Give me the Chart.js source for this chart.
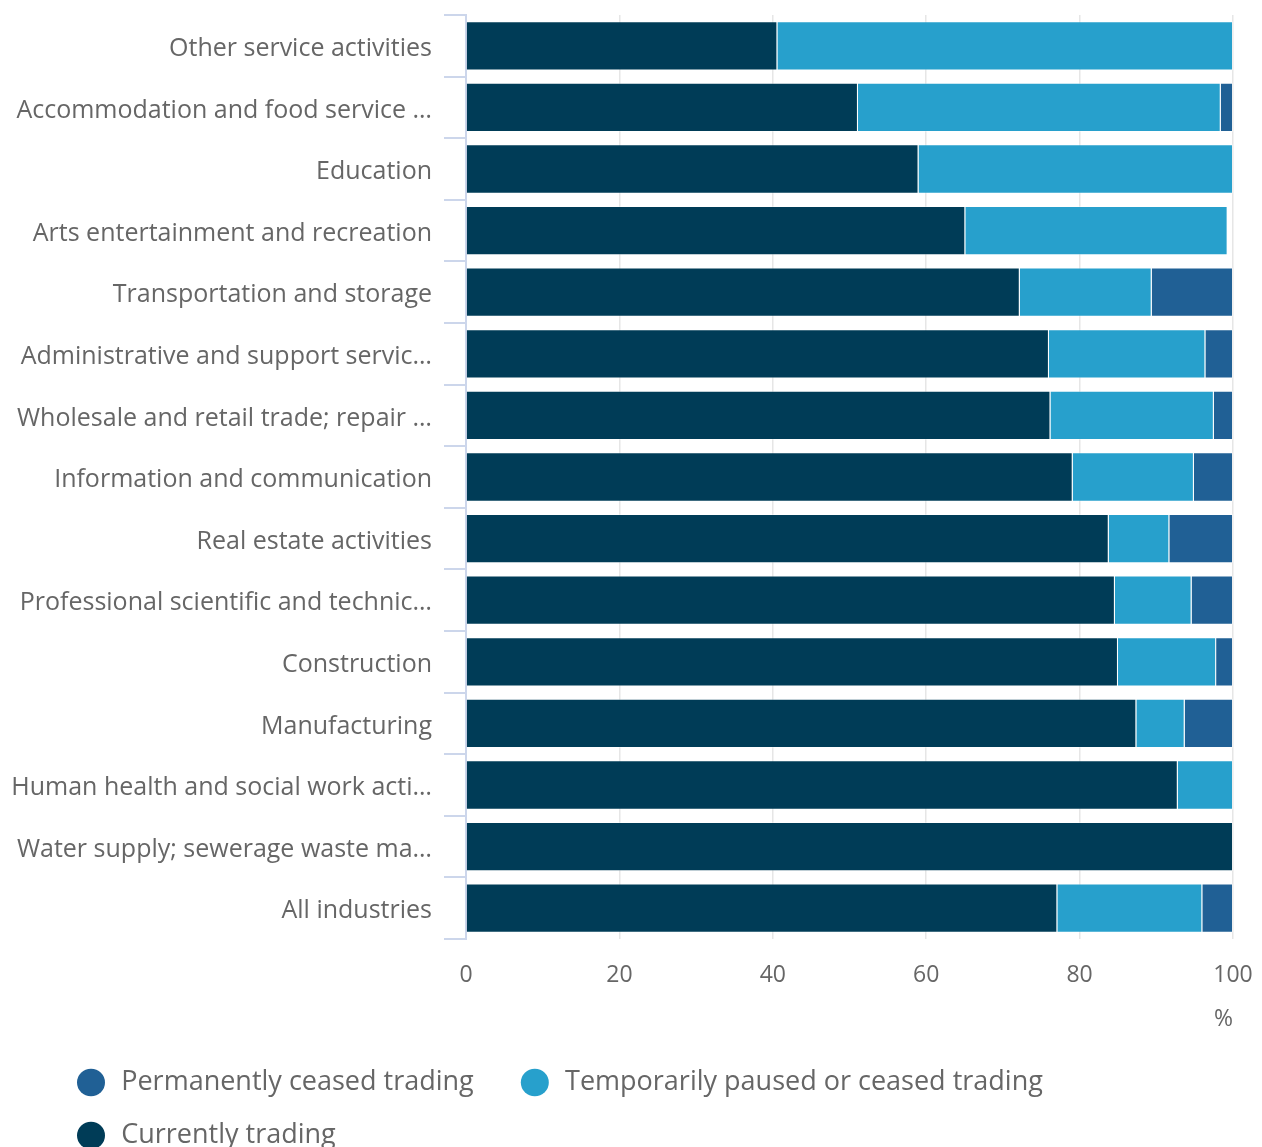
<!DOCTYPE html>
<html>
<head>
<meta charset="utf-8">
<script src="https://cdn.jsdelivr.net/npm/chart.js@4"></script>
<style>
  html, body { margin: 0; padding: 0; background: #fff; overflow: hidden; }
  canvas { display: block; }
</style>
</head>
<body>
<canvas id="myChart" width="1262" height="1159"></canvas>
<script>
// industries, top to bottom
const industries = [
  'Other service activities',
  'Accommodation and food service activities',
  'Education',
  'Arts entertainment and recreation',
  'Transportation and storage',
  'Administrative and support service activities',
  'Wholesale and retail trade; repair of motor vehicles and motorcycles',
  'Information and communication',
  'Real estate activities',
  'Professional scientific and technical activities',
  'Construction',
  'Manufacturing',
  'Human health and social work activities',
  'Water supply; sewerage waste management and remediation activities',
  'All industries'
]

// % of businesses
const currentlyTrading = [40.6, 51.1, 59.0, 65.1, 72.2, 76.0, 76.2, 79.1, 83.8, 84.6, 85.0, 87.4, 92.8, 100, 77.1]
const temporarilyPaused = [59.4, 47.3, 41.0, 34.2, 17.2, 20.4, 21.3, 15.8, 7.9, 10.0, 12.8, 6.3, 7.2, 0, 18.9]
const permanentlyCeased = [0, 1.6, 0, 0, 10.6, 3.6, 2.5, 5.1, 8.3, 5.4, 2.2, 6.3, 0, 0, 4.0]

const xTicks = [0, 20, 40, 60, 80, 100]

const fontFamily = "'Open Sans', sans-serif"
const labelSize = 25

// cut long category names so they fit next to the axis
const measureCtx = document.createElement('canvas').getContext('2d')
function shorten(text, maxWidth){
  measureCtx.font = labelSize + 'px ' + fontFamily
  if (measureCtx.measureText(text).width <= maxWidth) return text
  let t = text
  while (t.length > 0 && measureCtx.measureText(t + '…').width > maxWidth) {
    t = t.slice(0, -1)
  }
  return t + '…'
}

// push the legend in from the left edge without moving the axis labels
const legendIndent = {
  id: 'legendIndent',
  afterLayout(chart){
    chart.legend.left += 43
  }
}

const ctx = document.getElementById('myChart')

const barBorder = 'rgba(255, 255, 255, 0.35)'

const data = {
  labels: industries,
  datasets: [{
    label: 'Currently trading',
    data: currentlyTrading,
    backgroundColor: '#003c57',
    borderColor: barBorder,
    borderWidth: 1
  }, {
    label: 'Temporarily paused or ceased trading',
    data: temporarilyPaused,
    backgroundColor: '#27a0cc',
    borderColor: barBorder,
    borderWidth: 1
  }, {
    label: 'Permanently ceased trading',
    data: permanentlyCeased,
    backgroundColor: '#206095',
    borderColor: barBorder,
    borderWidth: 1
  }]
}

const config = {
  type: 'bar',
  data: data,
  plugins: [legendIndent],
  options: {
    indexAxis: 'y',
    responsive: false,
    animation: false,
    devicePixelRatio: 1,
    barPercentage: 0.8,
    categoryPercentage: 1,
    layout: {
      padding: { top: 15, left: 8, right: 29, bottom: 0 }
    },
    scales: {
      x: {
        stacked: true,
        min: 0,
        max: 100,
        afterBuildTicks: (axis) => { axis.ticks = xTicks.map(v => ({ value: v })) },
        afterFit: (axis) => {
          axis.height = 104
          axis.paddingRight = 0
        },
        grid: {
          color: '#e6e6e6',
          lineWidth: 1.5,
          drawTicks: false
        },
        border: { display: false },
        ticks: {
          padding: 23,
          color: '#666',
          font: { family: fontFamily, size: 23 }
        },
        title: {
          display: true,
          text: '%',
          align: 'end',
          color: '#666',
          padding: { top: 0, bottom: 10 },
          font: { family: fontFamily, size: 23 }
        }
      },
      y: {
        stacked: true,
        afterFit: (axis) => {
          axis.width = 458
          axis.paddingTop = 0
          axis.paddingBottom = 0
        },
        grid: {
          offset: true,
          drawOnChartArea: false,
          color: '#ccd6eb',
          lineWidth: 2,
          tickLength: 22
        },
        border: { color: '#ccd6eb', width: 2 },
        ticks: {
          padding: 12,
          labelOffset: 3,
          color: '#666',
          font: { family: fontFamily, size: labelSize },
          callback: function(value){
            return shorten(this.getLabelForValue(value), 421)
          }
        }
      }
    },
    plugins: {
      legend: {
        position: 'bottom',
        align: 'start',
        reverse: true,
        labels: {
          usePointStyle: true,
          pointStyle: 'circle',
          boxHeight: 19.5,
          pointStyleWidth: 28,
          padding: 26,
          color: '#666',
          font: { family: fontFamily, size: 27 },
          generateLabels: (chart) => {
            // a little room around each entry's text
            const items = Chart.defaults.plugins.legend.labels.generateLabels(chart)
            items.forEach(item => {
              item.text = '\u200A' + item.text + '   '
              item.lineWidth = 0
            })
            return items
          }
        }
      },
      tooltip: { enabled: false }
    }
  }
}

const myChart = new Chart(ctx, config)
</script>
</body>
</html>
